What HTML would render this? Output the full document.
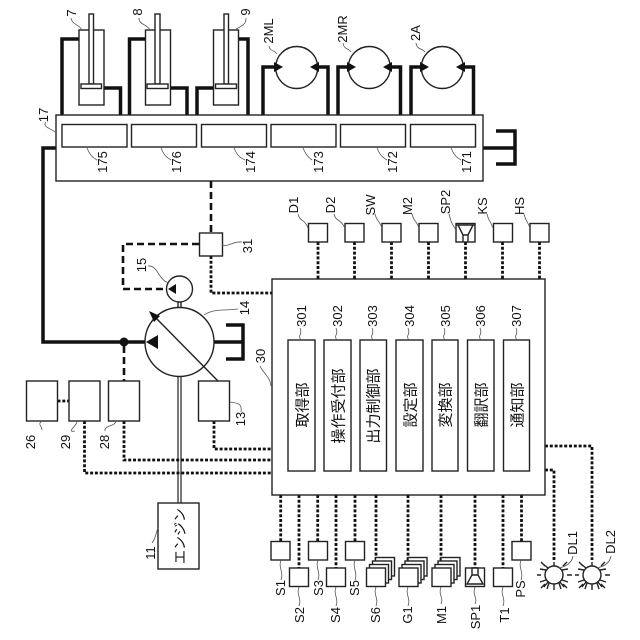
<!DOCTYPE html>
<html>
<head>
<meta charset="utf-8">
<style>
html,body{margin:0;padding:0;background:#fff;}
svg{display:block;}
text{font-family:"Liberation Sans","Noto Sans CJK JP",sans-serif;font-size:13px;fill:#111;text-anchor:middle;}
.jp{font-size:15px;}
.b{fill:#fff;stroke:#222;stroke-width:1.4;}
.t{fill:none;stroke:#111;stroke-width:3.5;}
.d{fill:none;stroke:#111;stroke-width:2.6;stroke-dasharray:7 4;}
.o{fill:none;stroke:#111;stroke-width:2.8;stroke-dasharray:3 1.8;}
.l{fill:none;stroke:#555;stroke-width:.8;}
.a{fill:#111;stroke:none;}
</style>
</head>
<body>
<svg width="640" height="640" viewBox="0 0 640 640" xmlns="http://www.w3.org/2000/svg">
<!-- hydraulic thick lines -->
<path class="t" d="M79 39H62V115M104 88H120.5V115M145.5 39H129.5V115M170.5 88H187V115M213.5 88H197V115M238.5 39H248V115"/>
<path class="t" d="M263 115V67H276M328 115V67H316M338 115V67H349M400.5 115V67H389M411 115V67H422M473.5 115V67H462"/>
<path class="t" d="M483 148H515M496 131H515V164H496"/>
<path class="t" d="M56 148H43V342H150"/>
<path class="t" d="M214 342H243M226 325H243V359H226"/>
<!-- cylinders -->
<rect class="b" x="79" y="30" width="25" height="75"/><rect class="b" x="89" y="14" width="4.5" height="70"/><rect class="b" x="81" y="84" width="20.5" height="4.5"/>
<rect class="b" x="145.5" y="30" width="25" height="75"/><rect class="b" x="155" y="14" width="5" height="70"/><rect class="b" x="147" y="84" width="21" height="4.5"/>
<rect class="b" x="213.5" y="30" width="25" height="75"/><rect class="b" x="224" y="14" width="4.5" height="70"/><rect class="b" x="215.5" y="84" width="21" height="4.5"/>
<!-- motors -->
<circle class="b" cx="296.7" cy="67.5" r="21"/><circle class="b" cx="369.3" cy="67.5" r="21"/><circle class="b" cx="442.3" cy="67.5" r="21"/>
<path class="a" d="M283 67L274 62V72ZM310 67L319 62V72ZM356 67L347 62V72ZM383 67L392 62V72ZM429 67L420 62V72ZM456 67L465 62V72Z"/>
<!-- block 17 -->
<rect class="b" x="56" y="115" width="427" height="66" stroke-width="1.6"/>
<rect class="b" x="62" y="124.500" width="65" height="22.500"/><rect class="b" x="131.500" y="124.500" width="65" height="22.500"/><rect class="b" x="201.500" y="124.500" width="65" height="22.500"/><rect class="b" x="271" y="124.500" width="65" height="22.500"/><rect class="b" x="340.500" y="124.500" width="65" height="22.500"/><rect class="b" x="410.500" y="124.500" width="65" height="22.500"/>
<!-- controls -->
<path class="d" d="M211 181V233M199 244H123V289H168"/>
<path class="o" d="M211 256V293H272"/>
<rect class="b" x="199.500" y="233" width="23" height="23"/>
<!-- pumps -->
<path class="b" d="M178 302V307M181 302V307"/>
<circle class="b" cx="179.500" cy="289" r="13"/>
<path class="a" d="M168 289L176 284V294Z"/>
<path class="d" d="M124 346V381" stroke-width="3"/>
<circle class="b" cx="179.500" cy="342" r="34.500"/>
<path class="a" d="M146 342L158 335V349Z"/>
<path class="b" d="M152 314L218 381" fill="none"/>
<path class="a" d="M149 311L160 316L154 322Z"/>
<circle class="a" cx="124" cy="342" r="4.500"/>
<!-- shaft -->
<path d="M178 377V503M181 377V503" fill="none" stroke="#333" stroke-width="1.300"/>
<!-- dotted lines left -->
<path class="o" d="M214 421V449H272M124 421V460H272M84.500 421V473H272M57.500 401H69"/>
<rect class="b" x="26.500" y="381" width="31" height="40"/><rect class="b" x="69" y="381" width="31" height="40"/><rect class="b" x="108.500" y="381" width="31" height="40"/><rect class="b" x="198.500" y="381" width="31" height="40"/>
<!-- engine -->
<rect class="b" x="158" y="503" width="41" height="66"/>
<text class="jp" transform="translate(180,536) rotate(-90)" dy="5" style="font-size:14px">エンジン</text>
<!-- top connectors -->
<path class="o" d="M318 242V279M354.500 242V279M391.500 242V279M428.500 242V279M465.500 242V279M502.500 242V279M539.500 242V279"/>
<!-- bottom connectors -->
<path class="o" d="M280.700 495V541M299 495V568M317.700 495V541M336 495V568M355 495V541M376 495V565M408 495V565M441 495V565M475 495V568M503 495V568M521.500 495V541"/>
<path class="o" d="M545 470H554V560M545 446H592V560"/>
<!-- controller -->
<rect class="b" x="272" y="279" width="273" height="216" stroke-width="1.600"/>
<rect class="b" x="288" y="340" width="27" height="131"/><rect class="b" x="324" y="340" width="27" height="131"/><rect class="b" x="360" y="340" width="26.500" height="131"/><rect class="b" x="396" y="340" width="27" height="131"/><rect class="b" x="432" y="340" width="26" height="131"/><rect class="b" x="467.500" y="340" width="26.500" height="131"/><rect class="b" x="503.500" y="340" width="26" height="131"/>
<g class="jp">
<text class="jp" transform="translate(302,405) rotate(-90)" dy="5.500">取得部</text>
<text class="jp" transform="translate(338,406) rotate(-90)" dy="5.500">操作受付部</text>
<text class="jp" transform="translate(373,406) rotate(-90)" dy="5.500">出力制御部</text>
<text class="jp" transform="translate(410,405) rotate(-90)" dy="5.500">設定部</text>
<text class="jp" transform="translate(445,405) rotate(-90)" dy="5.500">変換部</text>
<text class="jp" transform="translate(481,405) rotate(-90)" dy="5.500">翻訳部</text>
<text class="jp" transform="translate(517,405) rotate(-90)" dy="5.500">通知部</text>
</g>
<!-- top small boxes -->
<rect class="b" x="308.500" y="223.500" width="19" height="18.500"/><rect class="b" x="345" y="223.500" width="19" height="18.500"/><rect class="b" x="382" y="223.500" width="19" height="18.500"/><rect class="b" x="419" y="223.500" width="19" height="18.500"/><rect class="b" x="456" y="223.500" width="19" height="18.500"/><rect class="b" x="493.500" y="223.500" width="19" height="18.500"/><rect class="b" x="530" y="223.500" width="19" height="18.500"/>
<path class="b" d="M456 225H475M458 225L463 235H468L473 225M463 235V242M468 235V242" fill="none"/>
<!-- bottom small boxes -->
<rect class="b" x="271" y="541.500" width="19" height="18.500"/><rect class="b" x="289.500" y="568" width="19" height="18.500"/><rect class="b" x="308.500" y="541.500" width="19" height="18.500"/><rect class="b" x="326.500" y="568" width="19" height="18.500"/><rect class="b" x="345.500" y="541.500" width="19" height="18.500"/>
<g id="stacks">
<rect class="b" x="375.500" y="557.500" width="19" height="18.500"/><rect class="b" x="372.500" y="561" width="19" height="18.500"/><rect class="b" x="369.500" y="564.500" width="19" height="18.500"/><rect class="b" x="366.500" y="568" width="19" height="18.500"/>
<rect class="b" x="408" y="557.500" width="19" height="18.500"/><rect class="b" x="405" y="561" width="19" height="18.500"/><rect class="b" x="402" y="564.500" width="19" height="18.500"/><rect class="b" x="399" y="568" width="19" height="18.500"/>
<rect class="b" x="441" y="557.500" width="19" height="18.500"/><rect class="b" x="438" y="561" width="19" height="18.500"/><rect class="b" x="435" y="564.500" width="19" height="18.500"/><rect class="b" x="432" y="568" width="19" height="18.500"/>
</g>
<rect class="b" x="465.500" y="568" width="19" height="18.500"/>
<path class="b" d="M472 568V575L467 584H483L478 575V568ZM472 575H478" fill="none"/>
<rect class="b" x="493.500" y="568" width="19" height="18.500"/><rect class="b" x="512" y="541.500" width="19" height="18.500"/>
<!-- lamps -->
<circle class="b" cx="554" cy="575" r="9"/><circle class="b" cx="592" cy="575" r="9"/>
<path class="b" fill="none" d="M554 562V566M554 584V590M541 575H537M567 575H572M545 566L541 562M563 566L567 562M545 584L541 588M563 584L567 588M548 568L543 564M548 582L544 587M560 582L564 587M549 583L547 589M559 583L561 589M546 570L540 569M546 580L540 582M562 570L568 569M562 580L568 582"/>
<path class="b" fill="none" d="M592 562V566M592 584V590M579 575H575M605 575H610M583 566L579 562M601 566L605 562M583 584L579 588M601 584L605 588M586 568L581 564M586 582L582 587M598 582L602 587M587 583L585 589M597 583L599 589M584 570L578 569M584 580L578 582M600 570L606 569M600 580L606 582"/>
<!-- leaders -->
<path class="l" d="M71 18C72 25 79 24 82 30M139 18C139 25 147 24 150 30M246 18C246 26 240 26 235 30M46 122C42 127 50 128 55 132M87 148C90 155 92 157 97 160M161 148C164 155 166 157 171 160M234 148C237 155 239 157 245 160M303 148C306 155 308 157 312 160M377 148C380 155 382 157 387 160M451 148C454 155 456 157 461 160M269 46C270 52 275 50 277 54M343 43C344 50 349 48 351 52M416 43C417 50 422 48 425 52M222 245C230 247 232 241 242 242M148 266C158 265 158 280 169 283M204 315C215 308 225 311 238 309M260 366C262 372 270 376 271 386M42 430C42 425 37 425 42 421M75 431C65 433 78 425 77 421M105 431C104 425 115 427 116 421M230 402C240 403 242 405 241 412M152 543C156 538 156 532 158 528M300 328C303 335 297 335 301 340M336 328C339 335 333 335 337 340M372 328C375 335 369 335 373 340M408 328C411 335 405 335 409 340M444 328C447 335 441 335 445 340M480 328C483 335 477 335 481 340M516 328C519 335 513 335 517 340M298 214C300 222 304 218 308 228M334 214C336 222 340 218 345 228M375 214C377 222 378 218 382 228M412 214C414 222 415 218 419 228M449 214C451 222 452 224 456 230M487 214C489 222 489 218 493 228M524 214C526 222 526 218 530 228M281 560C278 568 284 572 281 580M299 587C296 595 302 598 299 606M318 560C315 568 321 572 318 580M336 587C333 595 339 598 336 606M355 560C352 568 358 572 355 580M376 587C373 595 379 598 376 606M408 587C405 595 411 598 408 606M441 587C438 595 444 598 441 604M475 587C472 595 478 598 475 604M503 587C500 595 506 598 503 606M521 560C518 568 524 572 521 580M559 568C568 566 572 562 573 556M597 568C606 566 610 562 611 556"/>
<!-- labels: x = baseline -->
<text transform="translate(76,13) rotate(-90)">7</text>
<text transform="translate(142,12) rotate(-90)">8</text>
<text transform="translate(250,12) rotate(-90)">9</text>
<text transform="translate(48,115) rotate(-90)">17</text>
<text transform="translate(107,162) rotate(-90)">175</text>
<text transform="translate(181,162) rotate(-90)">176</text>
<text transform="translate(255,162) rotate(-90)">174</text>
<text transform="translate(323,162) rotate(-90)">173</text>
<text transform="translate(397,162) rotate(-90)">172</text>
<text transform="translate(471,162) rotate(-90)">171</text>
<text transform="translate(273,31) rotate(-90)">2ML</text>
<text transform="translate(347,29) rotate(-90)">2MR</text>
<text transform="translate(420,33) rotate(-90)">2A</text>
<text transform="translate(252,246) rotate(-90)">31</text>
<text transform="translate(146,265) rotate(-90)">15</text>
<text transform="translate(249,308) rotate(-90)">14</text>
<text transform="translate(265,356) rotate(-90)">30</text>
<text transform="translate(35,442) rotate(-90)">26</text>
<text transform="translate(70,442) rotate(-90)">29</text>
<text transform="translate(109,442) rotate(-90)">28</text>
<text transform="translate(245,419) rotate(-90)">13</text>
<text transform="translate(155,553) rotate(-90)">11</text>
<text transform="translate(298,205) rotate(-90)">D1</text>
<text transform="translate(335,205) rotate(-90)">D2</text>
<text transform="translate(375,205) rotate(-90)">SW</text>
<text transform="translate(412,206) rotate(-90)">M2</text>
<text transform="translate(450,202) rotate(-90)">SP2</text>
<text transform="translate(487,206) rotate(-90)">KS</text>
<text transform="translate(524,206) rotate(-90)">HS</text>
<text transform="translate(306,316) rotate(-90)">301</text>
<text transform="translate(342,316) rotate(-90)">302</text>
<text transform="translate(377,316) rotate(-90)">303</text>
<text transform="translate(414,316) rotate(-90)">304</text>
<text transform="translate(450,316) rotate(-90)">305</text>
<text transform="translate(485,316) rotate(-90)">306</text>
<text transform="translate(521,316) rotate(-90)">307</text>
<text transform="translate(285,588) rotate(-90)">S1</text>
<text transform="translate(304,615) rotate(-90)">S2</text>
<text transform="translate(323,588) rotate(-90)">S3</text>
<text transform="translate(340,615) rotate(-90)">S4</text>
<text transform="translate(359,588) rotate(-90)">S5</text>
<text transform="translate(380,615) rotate(-90)">S6</text>
<text transform="translate(412,615) rotate(-90)">G1</text>
<text transform="translate(446,615) rotate(-90)">M1</text>
<text transform="translate(480,617) rotate(-90)">SP1</text>
<text transform="translate(509,615) rotate(-90)">T1</text>
<text transform="translate(525,589) rotate(-90)">PS</text>
<text transform="translate(577,543) rotate(-90)">DL1</text>
<text transform="translate(615,542) rotate(-90)">DL2</text>
</svg>
</body>
</html>
